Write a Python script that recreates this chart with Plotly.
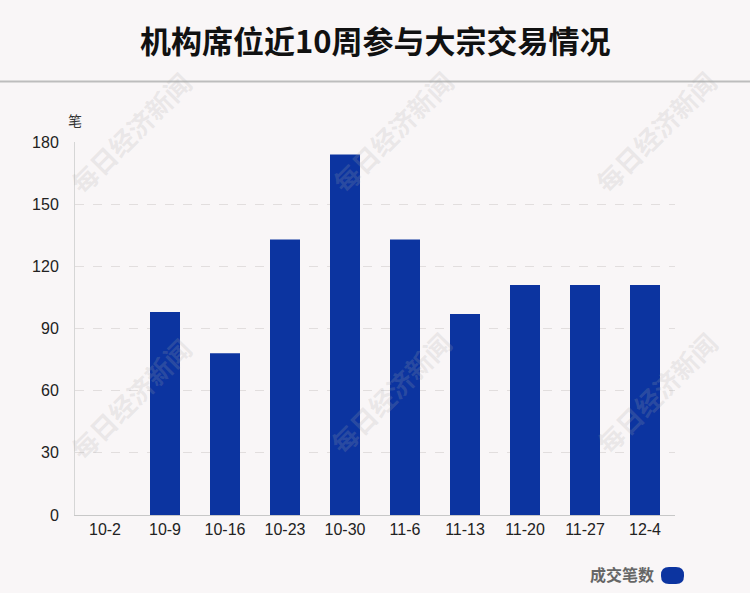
import plotly.graph_objects as go

categories = ["10-2", "10-9", "10-16", "10-23", "10-30", "11-6", "11-13", "11-20", "11-27", "12-4"]
values = [0, 98, 78, 133, 174, 133, 97, 111, 111, 111]
y_ticks = [0, 30, 60, 90, 120, 150, 180]
series_name = "成交笔数"
title_text = "机构席位近10周参与大宗交易情况"
unit_label = "笔"
watermark = "每日经济新闻"

BAR = "#0c34a0"
BG = "#f9f6f7"
CJK = "Noto Sans CJK SC, sans-serif"
LAT = "Liberation Sans, Arial, sans-serif"

fig = go.Figure()
fig.add_trace(go.Bar(
    x=categories, y=values, name=series_name,
    marker=dict(color=BAR, line=dict(width=0)),
    showlegend=False, hoverinfo="x+y",
))

annotations = []
annotations.append(dict(text=f"<b>{title_text}</b>", xref="paper", yref="paper",
                        x=0.5, y=1.0, yshift=103, xanchor="center", yanchor="middle",
                        showarrow=False, font=dict(size=31, color="#111", family=CJK)))
annotations.append(dict(text=unit_label, xref="paper", yref="paper", x=0, y=1.0,
                        xshift=0, yshift=22, xanchor="center", yanchor="middle",
                        showarrow=False, font=dict(size=14, color="#333", family=CJK)))
# legend imitation
annotations.append(dict(text=f"<b>{series_name}</b>", xref="paper", yref="paper", x=1.0, y=0,
                        xshift=-19, yshift=-59, xanchor="right", yanchor="middle",
                        showarrow=False, font=dict(size=16, color="#666", family=CJK)))
# watermarks (pixel centres converted to paper coords)
W, H, L, T = 600, 373, 75, 142
wm_px = [(130, 132), (392, 131), (655, 131), (130, 398), (390, 392), (656, 392)]
for (cx, cy) in wm_px:
    annotations.append(dict(text=f"<b>{watermark}</b>", xref="paper", yref="paper",
                            x=(cx - L) / W, y=(T + H - cy) / H,
                            xanchor="center", yanchor="middle",
                            showarrow=False, textangle=-45,
                            font=dict(size=26, color="rgba(170,170,170,0.2)", family=CJK)))

def pxx(v):
    return (v - L) / W

def pxy(v):
    return (T + H - v) / H

x0, x1, y0, y1 = pxx(661), pxx(684), pxy(584), pxy(567)
rx, ry = 8 / W, 8 / H
pill = (f"M {x0+rx},{y1} L {x1-rx},{y1} Q {x1},{y1} {x1},{y1-ry} "
        f"L {x1},{y0+ry} Q {x1},{y0} {x1-rx},{y0} L {x0+rx},{y0} "
        f"Q {x0},{y0} {x0},{y0+ry} L {x0},{y1-ry} Q {x0},{y1} {x0+rx},{y1} Z")

shapes = [
    dict(type="line", xref="paper", yref="paper", x0=-0.2, x1=1.2, y0=pxy(81.5), y1=pxy(81.5),
         line=dict(color="#bdbdbd", width=2)),
    dict(type="path", xref="paper", yref="paper", path=pill,
         fillcolor=BAR, line=dict(width=0)),
]

fig.update_layout(
    width=750, height=593,
    margin=dict(l=L, r=750 - L - W, t=T, b=593 - T - H),
    paper_bgcolor=BG, plot_bgcolor=BG,
    bargap=0.5,
    font=dict(family=LAT, size=16, color="#222"),
    annotations=annotations,
    shapes=shapes,
    xaxis=dict(type="category", showgrid=False, showline=True, linecolor="#c8c8c8", linewidth=1,
               ticks="", tickfont=dict(size=16, color="#222", family=LAT)),
    yaxis=dict(range=[0, 180], tickvals=y_ticks, showgrid=True, gridcolor="#e2dede",
               griddash="dash", gridwidth=1, showline=True, linecolor="#d6d6d6", linewidth=1,
               zeroline=False, ticks="outside", ticklen=12, tickcolor="rgba(0,0,0,0)",
               tickfont=dict(size=16, color="#222", family=LAT)),
)
fig.write_html("out.html", config={"displayModeBar": False},
               post_script="document.body.style.margin='0';")
